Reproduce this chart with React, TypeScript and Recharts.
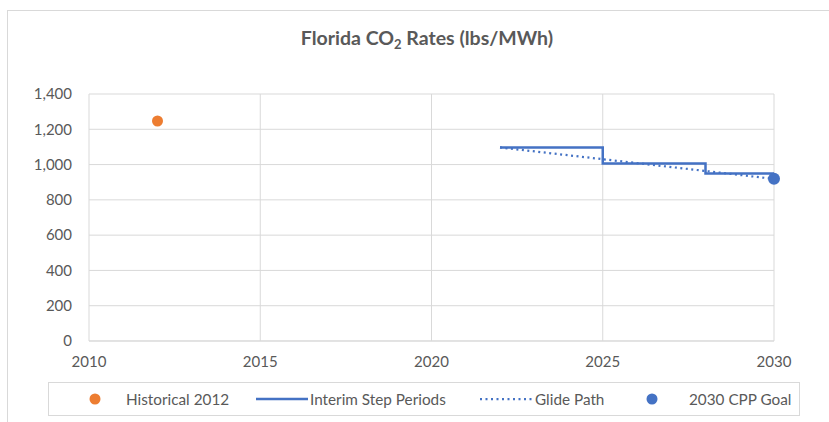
import React from "react";
import {
  ComposedChart,
  Line,
  Scatter,
  XAxis,
  YAxis,
  CartesianGrid,
  Legend,
} from "recharts";

const xTicks = [2010, 2015, 2020, 2025, 2030];
const yTicks = [0, 200, 400, 600, 800, 1000, 1200, 1400];

const historical = [{ x: 2012, y: 1247 }];
const interimSteps = [
  { x: 2022, y: 1097 },
  { x: 2025, y: 1097 },
  { x: 2025, y: 1006 },
  { x: 2028, y: 1006 },
  { x: 2028, y: 949 },
  { x: 2030, y: 949 },
];
const glidePath = [
  { x: 2022, y: 1097 },
  { x: 2030, y: 919 },
];
const cppGoal = [{ x: 2030, y: 919 }];

const ORANGE = "#ED7D31";
const BLUE = "#4472C4";
const TEXT = "#595959";
const GRID = "#D9D9D9";
const FONT = "Lato, 'Open Sans', sans-serif";

const LegendBox = () => {
  const item: React.CSSProperties = {
    position: "absolute",
    top: 0,
    height: 32,
    lineHeight: "32px",
    fontSize: 15.3,
    color: TEXT,
    whiteSpace: "nowrap",
  };
  return (
    <div
      style={{
        position: "relative",
        width: 752,
        height: 34,
        boxSizing: "border-box",
        border: `1px solid ${GRID}`,
        background: "#fff",
        fontFamily: FONT,
      }}
    >
      <svg width={750} height={32} style={{ position: "absolute", left: 0, top: 0 }}>
        <circle cx={46} cy={16} r={5.5} fill={ORANGE} />
        <line x1={207} x2={259} y1={16} y2={16} stroke={BLUE} strokeWidth={2.5} />
        <line
          x1={431}
          x2={484}
          y1={16}
          y2={16}
          stroke={BLUE}
          strokeWidth={2.25}
          strokeDasharray="2 3.5"
        />
        <circle cx={603} cy={16} r={5.5} fill={BLUE} />
      </svg>
      <span style={{ ...item, left: 77 }}>Historical 2012</span>
      <span style={{ ...item, left: 261 }}>Interim Step Periods</span>
      <span style={{ ...item, left: 486 }}>Glide Path</span>
      <span style={{ ...item, left: 640 }}>2030 CPP Goal</span>
    </div>
  );
};

const dot = (color: string, r: number) => (p: any) =>
  <circle cx={p.cx} cy={p.cy} r={r} fill={color} />;

export default function App() {
  return (
    <div
      style={{
        position: "absolute",
        left: 0,
        top: 0,
        width: 829,
        height: 422,
        background: "#fff",
        overflow: "hidden",
        fontFamily: FONT,
      }}
    >
      <div
        style={{
          position: "absolute",
          left: 7,
          top: 10,
          width: 822,
          height: 412,
          borderTop: `1px solid ${GRID}`,
          borderLeft: `1px solid ${GRID}`,
          boxSizing: "border-box",
        }}
      />
      <div
        style={{
          position: "absolute",
          left: 0,
          width: 854,
          top: 26,
          textAlign: "center",
          fontSize: 19.5,
          fontWeight: 700,
          color: TEXT,
          fontFamily: FONT,
        }}
      >
        Florida CO<sub style={{ fontSize: 13, verticalAlign: "-4px" }}>2</sub> Rates (lbs/MWh)
      </div>
      <div style={{ position: "absolute", left: 0, top: 0 }}>
        <ComposedChart
          width={829}
          height={422}
          margin={{ top: 94, right: 55, left: 0, bottom: 17 }}
        >
          <CartesianGrid stroke={GRID} strokeWidth={1} horizontal vertical />
          <XAxis
            type="number"
            dataKey="x"
            domain={[2010, 2030]}
            ticks={xTicks}
            allowDuplicatedCategory={false}
            height={30}
            tickLine={false}
            axisLine={{ stroke: GRID }}
            tickMargin={9}
            tick={{ fill: TEXT, fontSize: 15, fontFamily: FONT }}
          />
          <YAxis
            type="number"
            dataKey="y"
            domain={[0, 1400]}
            ticks={yTicks}
            width={89}
            tickLine={false}
            axisLine={false}
            tickMargin={11}
            tickFormatter={(v: number) => v.toLocaleString("en-US")}
            tick={{ fill: TEXT, fontSize: 15, fontFamily: FONT }}
          />
          <Legend
            verticalAlign="bottom"
            content={() => <LegendBox />}
            wrapperStyle={{ position: "absolute", top: 382, left: 48, width: 752, height: 34, bottom: "auto" }}
          />
          <Line
            data={interimSteps}
            dataKey="y"
            name="Interim Step Periods"
            stroke={BLUE}
            strokeWidth={2.5}
            dot={false}
            activeDot={false}
            isAnimationActive={false}
            type="linear"
          />
          <Line
            data={glidePath}
            dataKey="y"
            name="Glide Path"
            stroke={BLUE}
            strokeWidth={2.25}
            strokeDasharray="2 3.5"
            dot={false}
            activeDot={false}
            isAnimationActive={false}
            type="linear"
          />
          <Scatter
            data={historical}
            dataKey="y"
            name="Historical 2012"
            fill={ORANGE}
            shape={dot(ORANGE, 5.5)}
            isAnimationActive={false}
          />
          <Scatter
            data={cppGoal}
            dataKey="y"
            name="2030 CPP Goal"
            fill={BLUE}
            shape={dot(BLUE, 6)}
            isAnimationActive={false}
          />
        </ComposedChart>
      </div>
    </div>
  );
}
